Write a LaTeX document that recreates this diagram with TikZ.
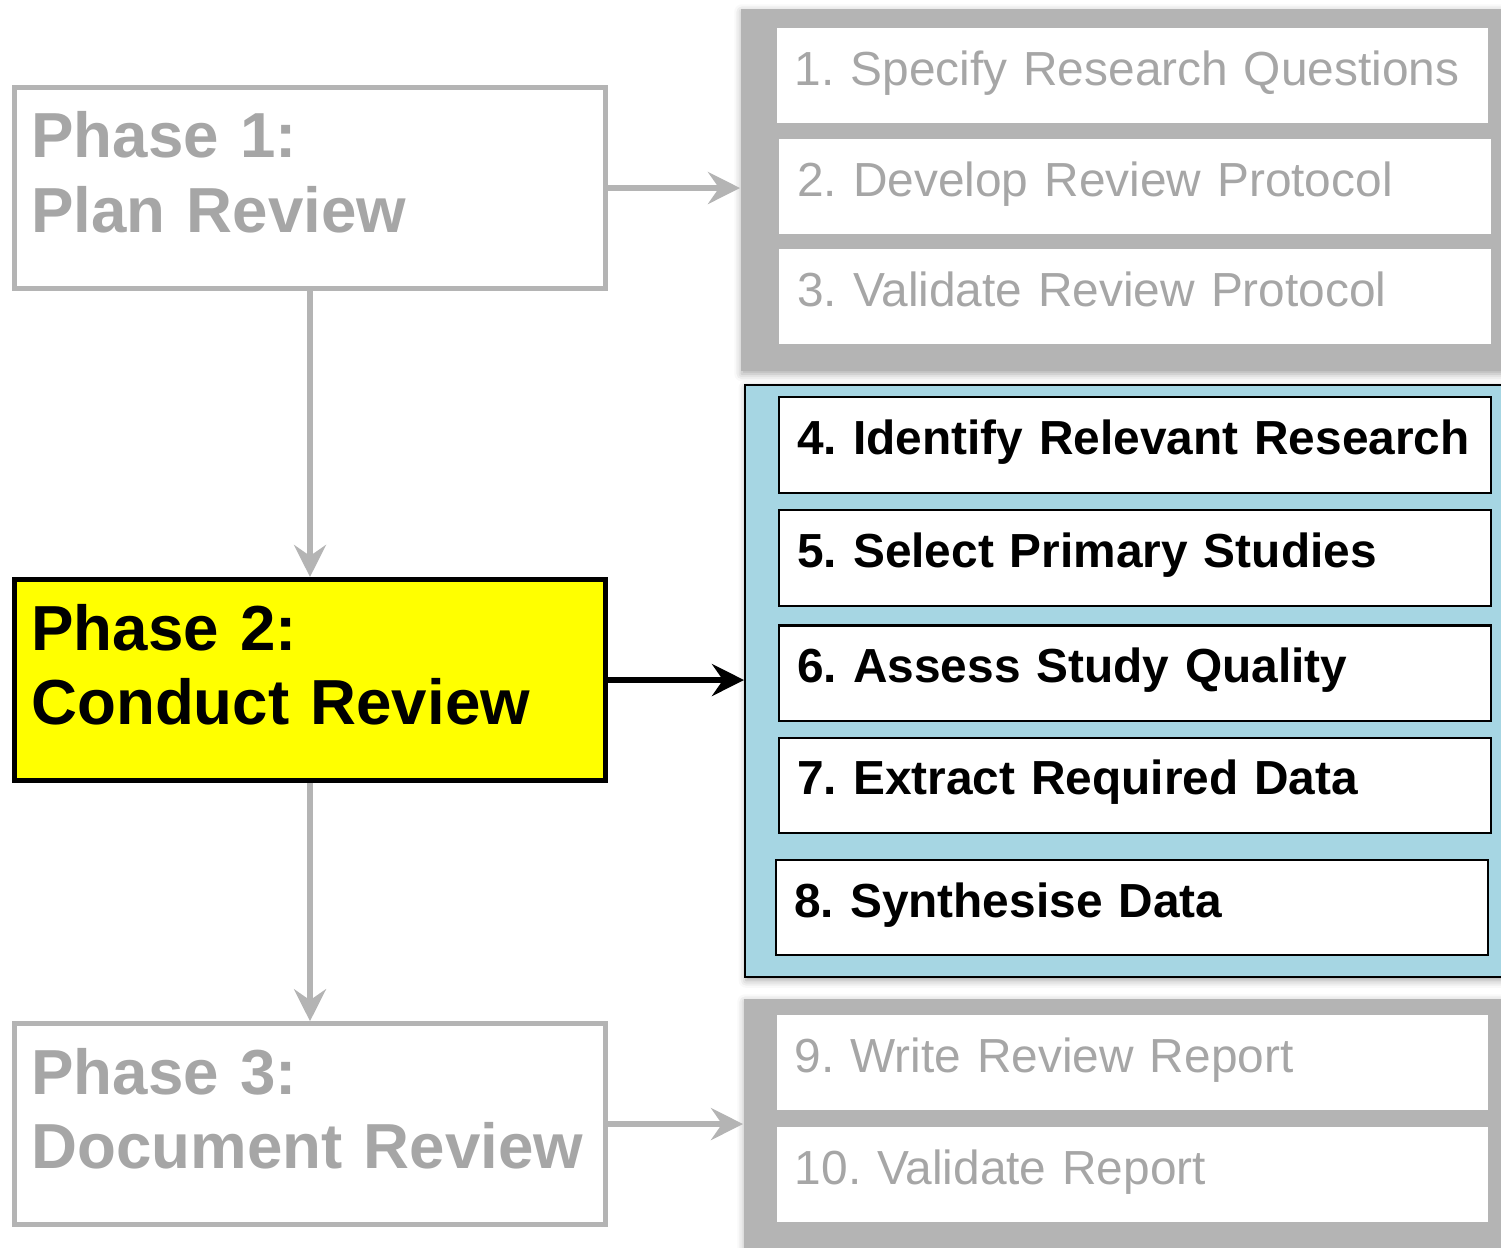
\documentclass[tikz,border=0pt]{standalone}
\usepackage{fontspec}
\setmainfont{Liberation Sans}
\frenchspacing
\usetikzlibrary{arrows.meta,shadows.blur}
\definecolor{revgray}{RGB}{180,180,180}
\definecolor{revtext}{RGB}{166,166,166}
\definecolor{revblue}{RGB}{166,214,227}
\definecolor{revyellow}{RGB}{255,255,0}

\tikzset{
  phasebox/.style={draw=revgray, line width=0.045cm, text width=5.57cm, inner xsep=0.17cm, inner ysep=0pt,
    minimum height=2.01cm, text height=0.45cm, text depth=1.05cm, align=left,
    font=\fontsize{18.1}{21.3}\selectfont\bfseries, text=revtext},
  stepbox/.style={fill=white, text width=6.75cm, inner xsep=0.18cm, inner ysep=0pt,
    minimum height=0.95cm, text height=0.38cm, text depth=0.19cm, align=left,
    font=\fontsize{13.6}{16}\selectfont},
  graystep/.style={stepbox, text=revtext},
  bluestep/.style={stepbox, draw=black, line width=0.02cm, font=\fontsize{13.6}{16}\selectfont\bfseries},
  panel/.style={anchor=north west, inner sep=0pt, minimum width=7.8cm,
    blur shadow={shadow xshift=0.01cm, shadow yshift=-0.03cm, shadow blur steps=4, shadow opacity=35}},
  flowarrow/.style={line width=0.065cm, -{Stealth[length=0.32cm, width=0.32cm, inset=0.11cm]}}
}

\begin{document}
\begin{tikzpicture}[x=0.01cm, y=-0.01cm]
\useasboundingbox (0,0) rectangle (1501,1247);
\clip (0,0) rectangle (1501,1247);

% Panels
\node[panel, fill=revgray, minimum height=3.62cm] (planpanel) at (740,8) {};
\node[panel, fill=revblue, draw=black, line width=0.02cm, minimum height=5.92cm] (conductpanel) at (744,384) {};
\node[panel, fill=revgray, minimum height=2.8cm] (docpanel) at (743,998) {};

% Phases
\node[phasebox] (phase1) at (310,188) {Phase 1:\\Plan Review};
\node[phasebox, draw=black, line width=0.05cm, fill=revyellow, text=black] (phase2) at (310,680) {Phase 2:\\Conduct Review};
\node[phasebox] (phase3) at (310,1124) {Phase 3:\\Document Review};

% Plan steps
\node[graystep] (step1) at (1132.5,75.5) {1. Specify Research Questions};
\node[graystep] (step2) at (1135,186.5) {2. Develop Review Protocol};
\node[graystep] (step3) at (1135,296.5) {3. Validate Review Protocol};

% Conduct steps
\node[bluestep] (step4) at (1135,445) {4. Identify Relevant Research};
\node[bluestep] (step5) at (1135,558) {5. Select Primary Studies};
\node[bluestep] (step6) at (1135,673) {6. Assess Study Quality};
\node[bluestep] (step7) at (1135,785) {7. Extract Required Data};
\node[bluestep] (step8) at (1132,907.5) {8. Synthesise Data};

% Document steps
\node[graystep] (step9) at (1132.5,1062.5) {9. Write Review Report};
\node[graystep] (step10) at (1132.5,1174.5) {10. Validate Report};

% Arrows
\draw[flowarrow, revgray] (phase1.south) -- (phase2.north);
\draw[flowarrow, revgray] (phase2.south) -- (phase3.north);
\draw[flowarrow, revgray] (phase1.east) -- (phase1.east -| planpanel.west);
\draw[flowarrow, black] (phase2.east) -- (phase2.east -| conductpanel.west);
\draw[flowarrow, revgray] (phase3.east) -- (phase3.east -| docpanel.west);
\end{tikzpicture}
\end{document}
